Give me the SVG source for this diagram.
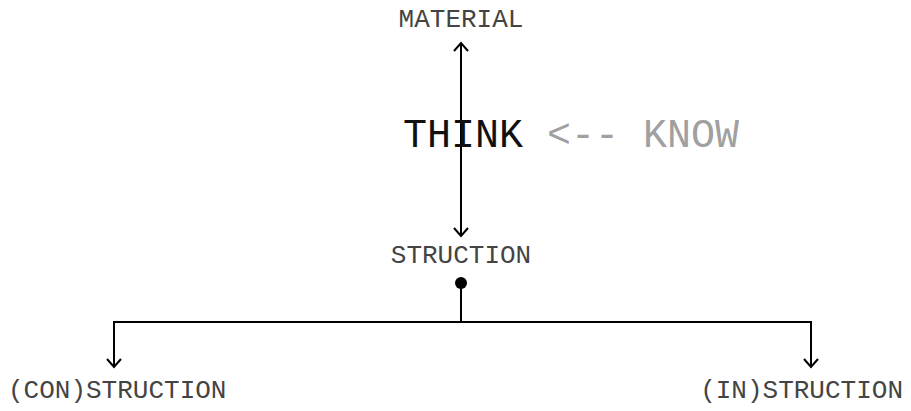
<svg xmlns="http://www.w3.org/2000/svg" width="911" height="411" viewBox="0 0 911 411">
<style>
.t{font-family:"Courier New","Nimbus Mono PS","Nimbus Mono L","FreeMono","Liberation Mono",monospace;font-size:26px;fill:#444;}
.big{font-family:"Courier New","Nimbus Mono PS","Nimbus Mono L","FreeMono","Liberation Mono",monospace;font-size:40px;}
.c{fill:none;stroke:#000;stroke-width:2;}
</style>
<defs>
<marker id="ah" viewBox="0 0 16 16" refX="12" refY="8" markerWidth="16" markerHeight="16" markerUnits="userSpaceOnUse" orient="auto-start-reverse">
<path d="M4 1 L12 8 L4 15" fill="none" stroke="#000" stroke-width="2"/>
</marker>
</defs>
<rect width="911" height="411" fill="#fff"/>
<g id="connectors">
<line class="c" x1="461" y1="43" x2="461" y2="236" marker-start="url(#ah)" marker-end="url(#ah)"/>
<circle cx="461" cy="283" r="6" fill="#000"/>
<polyline class="c" points="461,283 461,322"/>
<polyline class="c" points="114,367 114,322 811,322 811,367" marker-start="url(#ah)" marker-end="url(#ah)"/>
</g>
<g id="material"><text class="t" x="461" y="27" text-anchor="middle">MATERIAL</text></g>
<g id="think"><text class="big" x="403" y="147"><tspan fill="#111">THINK</tspan><tspan fill="#a0a0a0"> &lt;-- KNOW</tspan></text></g>
<g id="struction"><text class="t" x="461" y="263" text-anchor="middle">STRUCTION</text></g>
<g id="con"><text class="t" x="8" y="398">(CON)STRUCTION</text></g>
<g id="in"><text class="t" x="903" y="398" text-anchor="end">(IN)STRUCTION</text></g>
</svg>
